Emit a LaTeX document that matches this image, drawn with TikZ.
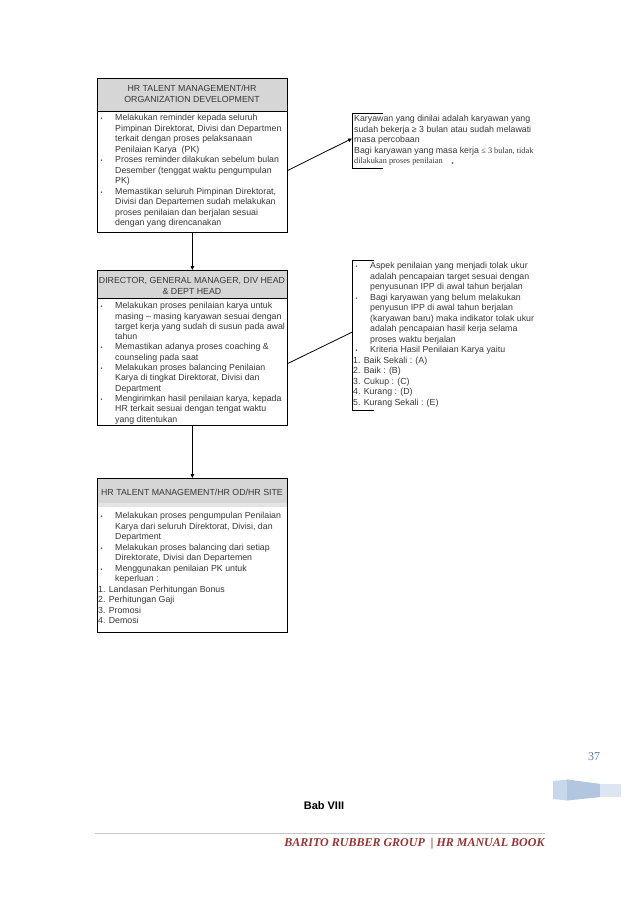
\documentclass[tikz,border=0pt]{standalone}
\usepackage{fontspec}
\setmainfont{Liberation Sans}
\newfontfamily\seriffam{Liberation Serif}
\usetikzlibrary{arrows.meta,calc}
\definecolor{txt}{HTML}{383838}
\definecolor{hdr}{HTML}{D6D6D6}
\definecolor{hdrlight}{HTML}{E4E4E4}
\definecolor{brg}{HTML}{943634}
\definecolor{pgnum}{HTML}{5A7E99}
\definecolor{decoA}{HTML}{C8D7EA}
\definecolor{decoB}{HTML}{B3C6E0}
\definecolor{decoC}{HTML}{DCE5F0}
\newcommand\bl{\hspace*{2.5pt}\makebox[14.5pt][l]{\fontsize{5.5}{5.5}\selectfont\textbullet}}
\newcommand\ii{\hspace*{17pt}}
\begin{document}
\begin{tikzpicture}[x=1pt,y=-1pt,
  box/.style={draw=black, line width=0.8pt, minimum width=190pt, inner sep=0, anchor=north west,
    path picture={\fill[hdr] (path picture bounding box.north west) rectangle ([yshift=-#1]path picture bounding box.north east);
      \draw[line width=0.8pt] ([yshift=-#1]path picture bounding box.north west) -- ([yshift=-#1]path picture bounding box.north east);}},
  boxstrip/.style={draw=black, line width=0.8pt, minimum width=190pt, inner sep=0, anchor=north west,
    path picture={\fill[hdr] (path picture bounding box.north west) rectangle ([yshift=-#1]path picture bounding box.north east);
      \fill[hdrlight] ([yshift=-#1]path picture bounding box.north west) rectangle ([yshift=-#1-4pt]path picture bounding box.north east);}},
  hdrtext/.style={align=center, inner sep=0, text=txt, font=\fontsize{8.8}{10.5}\selectfont},
  body/.style={anchor=north west, inner sep=0, align=left, text=txt, font=\fontsize{8.8}{10.5}\selectfont},
  side/.style={anchor=north west, inner sep=0, minimum width=170pt},
  arr/.style={draw=black, line width=0.8pt, -{Triangle[length=4pt,width=3.5pt]}},
  plain/.style={draw=black, line width=0.8pt},
  bracket/.style={draw=black, line width=0.8pt}
]
\useasboundingbox (0,0) rectangle (638,902);
\fill[white] (0,0) rectangle (638,902);

% main boxes
\node[box=33pt, minimum height=154pt] (b1) at (97,78) {};
\node[box=28pt, minimum height=155pt] (b2) at (97,270) {};
\node[boxstrip=25pt, minimum height=154pt] (b3) at (97,478) {};

% headers
\node[hdrtext] (h1) at (192,94) {HR TALENT MANAGEMENT/HR\\ORGANIZATION DEVELOPMENT};
\node[hdrtext] (h2) at (192,286) {DIRECTOR, GENERAL MANAGER, DIV HEAD\\\& DEPT HEAD};
\node[hdrtext] (h3) at (192,492) {HR TALENT MANAGEMENT/HR OD/HR SITE};

% bodies
\node[body] (t1) at (98,114.4) {%
\bl Melakukan reminder kepada seluruh\\
\ii Pimpinan Direktorat, Divisi dan Departmen\\
\ii terkait dengan proses pelaksanaan\\
\ii Penilaian Karya~ (PK)\\
\bl Proses reminder dilakukan sebelum bulan\\
\ii Desember (tenggat waktu pengumpulan\\
\ii PK)\\
\bl Memastikan seluruh Pimpinan Direktorat,\\
\ii Divisi dan Departemen sudah melakukan\\
\ii proses penilaian dan berjalan sesuai\\
\ii dengan yang direncanakan};

\node[body, font=\fontsize{8.8}{10.3}\selectfont] (t2) at (98,302.2) {%
\bl Melakukan proses penilaian karya untuk\\
\ii masing – masing karyawan sesuai dengan\\
\ii target kerja yang sudah di susun pada awal\\
\ii tahun\\
\bl Memastikan adanya proses coaching \&\\
\ii counseling pada saat\\
\bl Melakukan proses balancing Penilaian\\
\ii Karya di tingkat Direktorat, Divisi dan\\
\ii Department\\
\bl Mengirimkan hasil penilaian karya, kepada\\
\ii HR terkait sesuai dengan tengat waktu\\
\ii yang ditentukan};

\node[body] (t3) at (98,512.4) {%
\bl Melakukan proses pengumpulan Penilaian\\
\ii Karya dari seluruh Direktorat, Divisi, dan\\
\ii Department\\
\bl Melakukan proses balancing dari setiap\\
\ii Direktorate, Divisi dan Departemen\\
\bl Menggunakan penilaian PK untuk\\
\ii keperluan :\\
1. Landasan Perhitungan Bonus\\
2. Perhitungan Gaji\\
3. Promosi\\
4. Demosi};

% side boxes
\node[side, minimum height=55pt] (r1) at (352,113) {};
\draw[bracket] ([xshift=31pt]r1.north west) -- (r1.north west) -- (r1.south west) -- ([xshift=31pt]r1.south west);
\node[body] (s1) at (354,115.4) {%
Karyawan yang dinilai adalah karyawan yang\\
sudah bekerja ≥ 3 bulan atau sudah melawati\\
masa percobaan\\
Bagi karyawan yang masa kerja {\seriffam\fontsize{8.3}{10.5}\selectfont ≤ 3 bulan, tidak}\\
{\seriffam\fontsize{8.3}{10.5}\selectfont dilakukan proses penilaian}\hspace{9pt}{\fontsize{6}{6}\selectfont\raisebox{-1.5pt}{\textbullet}}};

\node[side, minimum height=150pt] (r2) at (352,260) {};
\draw[bracket] ([xshift=22pt]r2.north west) -- (r2.north west) -- (r2.south west) -- ([xshift=22pt]r2.south west);
\node[body] (s2) at (353,262.4) {%
\bl Aspek penilaian yang menjadi tolak ukur\\
\ii adalah pencapaian target sesuai dengan\\
\ii penyusunan IPP di awal tahun berjalan\\
\bl Bagi karyawan yang belum melakukan\\
\ii penyusun IPP di awal tahun berjalan\\
\ii (karyawan baru) maka indikator tolak ukur\\
\ii adalah pencapaian hasil kerja selama\\
\ii proses waktu berjalan\\
\bl Kriteria Hasil Penilaian Karya yaitu\\
1. Baik Sekali : (A)\\
2. Baik : (B)\\
3. Cukup : (C)\\
4. Kurang : (D)\\
5. Kurang Sekali : (E)};

% connectors
\coordinate (b1out) at ($(b1.north east)!0.597!(b1.south east)$);
\coordinate (b2out) at ($(b2.north east)!0.6!(b2.south east)$);
\coordinate (r1in) at ($(r1.north west)!0.46!(r1.south west)$);
\coordinate (r2in) at ($(r2.north west)!0.48!(r2.south west)$);
\draw[arr] (b1.south) -- (b2.north);
\draw[arr] (b2.south) -- (b3.north);
\draw[arr] (b1out) -- (r1in);
\draw[plain] (b2out) -- (r2in);

% footer
\node[inner sep=0, text=pgnum, font=\seriffam\fontsize{12}{12}\selectfont] (pg) at (594,757) {37};
\fill[decoA] (553,781) -- (568,779.5) -- (568,800.5) -- (553,799) -- cycle;
\fill[decoB] (567,779.5) -- (601,784) -- (601,797) -- (567,800.5) -- cycle;
\fill[decoC] (600,784) -- (621,784) -- (621,797) -- (600,797) -- cycle;
\node[inner sep=0, font=\bfseries\fontsize{11}{12}\selectfont] (bab) at (324,806) {Bab VIII};
\coordinate (fl) at (95,833);
\coordinate (fr) at (545,833);
\draw[gray!45, line width=0.7pt] (fl) -- (fr);
\node[inner sep=0, text=brg, font=\seriffam\bfseries\itshape\fontsize{12}{12}\selectfont] (brand) at (414.5,843.5) {BARITO RUBBER GROUP \ | HR MANUAL BOOK};
\end{tikzpicture}
\end{document}
